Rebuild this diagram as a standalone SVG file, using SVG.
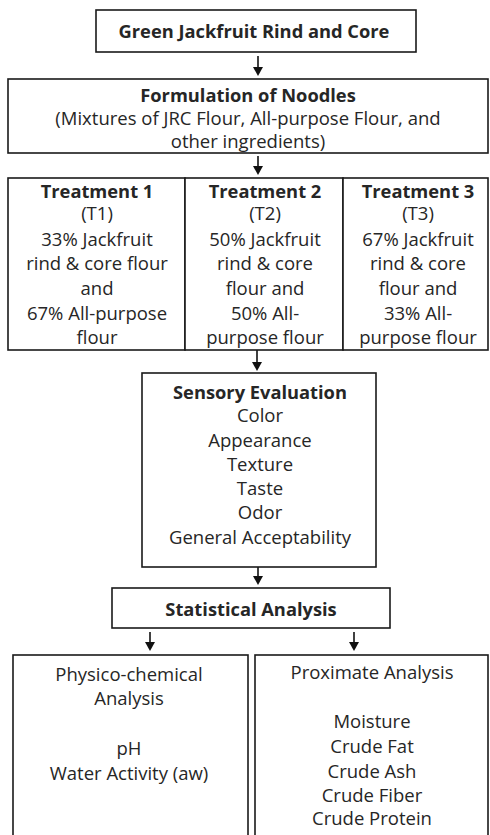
<svg xmlns="http://www.w3.org/2000/svg" width="490" height="835" viewBox="0 0 490 835">
<defs>
<style>
.box{fill:#fff;stroke:#1a1a1a;stroke-width:1.6}
.t{font-family:"Open Sans","DejaVu Sans",sans-serif;font-size:18.5px;fill:#262626;text-anchor:middle}
.b{font-weight:bold;font-size:18.3px}
.c{stroke:#111;stroke-width:1.6;fill:none}
.h{fill:#111}
</style>
</defs>
<rect width="490" height="835" fill="#fff"/>
<g id="connectors">
<line class="c" x1="258" y1="56" x2="258" y2="69"/><path class="h" d="M253,67 L263,67 L258,76 Z"/>
<line class="c" x1="258" y1="156" x2="258" y2="167"/><path class="h" d="M253,166 L263,166 L258,175 Z"/>
<line class="c" x1="257" y1="350" x2="257" y2="363"/><path class="h" d="M252,362 L262,362 L257,371 Z"/>
<line class="c" x1="258" y1="567" x2="258" y2="577"/><path class="h" d="M253,576 L263,576 L258,585 Z"/>
<line class="c" x1="150" y1="632" x2="150" y2="643"/><path class="h" d="M145,642 L155,642 L150,651 Z"/>
<line class="c" x1="354" y1="632" x2="354" y2="643"/><path class="h" d="M349,642 L359,642 L354,651 Z"/>
</g>
<g id="n1">
<rect class="box" x="96" y="10" width="320" height="42"/>
<text class="t b" x="254" y="38">Green Jackfruit Rind and Core</text>
</g>
<g id="n2">
<rect class="box" x="8" y="79" width="480" height="74"/>
<text class="t b" x="248" y="102">Formulation of Noodles</text>
<text class="t" x="248" y="125">(Mixtures of JRC Flour, All-purpose Flour, and</text>
<text class="t" x="248" y="148">other ingredients)</text>
</g>
<g id="t1">
<rect class="box" x="8" y="178" width="177" height="172"/>
<text class="t b" x="97" y="198">Treatment 1</text>
<text class="t" x="97" y="220">(T1)</text>
<text class="t" x="97" y="246">33% Jackfruit</text>
<text class="t" x="97" y="269.5">rind &amp; core flour</text>
<text class="t" x="97" y="295">and</text>
<text class="t" x="97" y="320">67% All-purpose</text>
<text class="t" x="97" y="343.5">flour</text>
</g>
<g id="t2">
<rect class="box" x="185" y="178" width="158" height="172"/>
<text class="t b" x="265" y="198">Treatment 2</text>
<text class="t" x="265" y="220">(T2)</text>
<text class="t" x="265" y="246">50% Jackfruit</text>
<text class="t" x="265" y="269.5">rind &amp; core</text>
<text class="t" x="265" y="295">flour and</text>
<text class="t" x="265" y="320">50% All-</text>
<text class="t" x="265" y="343.5">purpose flour</text>
</g>
<g id="t3">
<rect class="box" x="343" y="178" width="145" height="172"/>
<text class="t b" x="418" y="198">Treatment 3</text>
<text class="t" x="418" y="220">(T3)</text>
<text class="t" x="418" y="246">67% Jackfruit</text>
<text class="t" x="418" y="269.5">rind &amp; core</text>
<text class="t" x="418" y="295">flour and</text>
<text class="t" x="418" y="320">33% All-</text>
<text class="t" x="418" y="343.5">purpose flour</text>
</g>
<g id="sensory">
<rect class="box" x="142" y="373" width="234" height="194"/>
<text class="t b" x="260" y="399">Sensory Evaluation</text>
<text class="t" x="260" y="422">Color</text>
<text class="t" x="260" y="447">Appearance</text>
<text class="t" x="260" y="471">Texture</text>
<text class="t" x="260" y="495">Taste</text>
<text class="t" x="260" y="519">Odor</text>
<text class="t" x="260" y="544">General Acceptability</text>
</g>
<g id="stat">
<rect class="box" x="112" y="588" width="278" height="40"/>
<text class="t b" x="251" y="616">Statistical Analysis</text>
</g>
<g id="physico">
<rect class="box" x="13" y="655" width="235" height="190"/>
<text class="t" x="129" y="681">Physico-chemical</text>
<text class="t" x="129" y="705">Analysis</text>
<text class="t" x="129" y="755">pH</text>
<text class="t" x="129" y="780">Water Activity (aw)</text>
</g>
<g id="proximate">
<rect class="box" x="255" y="655" width="233" height="190"/>
<text class="t" x="372" y="679">Proximate Analysis</text>
<text class="t" x="372" y="728">Moisture</text>
<text class="t" x="372" y="753">Crude Fat</text>
<text class="t" x="372" y="778">Crude Ash</text>
<text class="t" x="372" y="801.5">Crude Fiber</text>
<text class="t" x="372" y="825">Crude Protein</text>
</g>
</svg>
